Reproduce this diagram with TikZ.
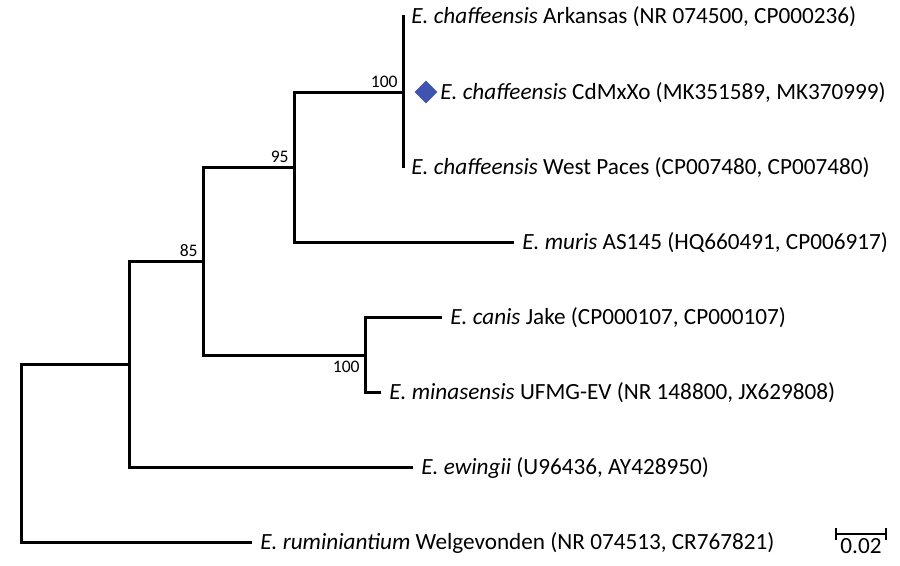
\documentclass[tikz,border=0pt]{standalone}
\usepackage{fontspec}
\setmainfont{Carlito}
\usetikzlibrary{shapes.geometric,calc}
\definecolor{markblue}{RGB}{62,84,176}
\begin{document}
\begin{tikzpicture}[x=0.5pt,y=-0.5pt,every node/.style={font=\fontsize{11.6}{13}\selectfont}]
    \tikzset{
      br/.style={line width=1.5pt},
      leaf/.style={anchor=west,inner sep=0pt,inner xsep=4pt},
      boot/.style={font=\fontsize{8.8}{10}\selectfont,inner sep=2.5pt},
      tag/.style={diamond,fill=markblue,inner sep=0pt,minimum size=11.5pt},
      bar/.style={line width=0.9pt}
    }
    \useasboundingbox (0,0) rectangle (900,566);

    % internal nodes
    \coordinate (root) at (21,454);
    \coordinate (An) at (129,365);
    \coordinate[label={[boot]above left:85}] (Bn) at (203,262);
    \coordinate[label={[boot]above left:95}] (D) at (294,168);
    \coordinate[label={[boot]above left:100}] (E) at (403,93);
    \coordinate[label={[boot]below left:100}] (C) at (365,356);

    % leaves
    \node[leaf] (ark) at (403,17) {\textit{E. chaffeensis} Arkansas (NR 074500, CP000236)};
    \node[tag] (dia) at (426,92) {};
    \node[leaf,inner xsep=0pt] (cdm) at (440,93) {\textit{E. chaffeensis} CdMxXo (MK351589, MK370999)};
    \node[leaf] (wpa) at (403,168) {\textit{E. chaffeensis} West Paces (CP007480, CP007480)};
    \node[leaf] (mur) at (514,243) {\textit{E. muris} AS145 (HQ660491, CP006917)};
    \node[leaf] (can) at (442,318) {\textit{E. canis} Jake (CP000107, CP000107)};
    \node[leaf] (min) at (381,393) {\textit{E. minasensis} UFMG-EV (NR 148800, JX629808)};
    \node[leaf] (ewi) at (413,468) {\textit{E. ewingii} (U96436, AY428950)};
    \node[leaf] (rum) at (252,543) {\textit{E. ruminiantium} Welgevonden (NR 074513, CR767821)};

    % branches
    \draw[br] (root) |- (An);
    \draw[br] (root) |- (rum.west);
    \draw[br] (An) |- (Bn);
    \draw[br] (An) |- (ewi.west);
    \draw[br] (Bn) |- (D);
    \draw[br] (Bn) |- (C);
    \draw[br] (D) |- (E);
    \draw[br] (D) |- (mur.west);
    \draw[br] (C) |- (can.west);
    \draw[br] (C) |- (min.west);
    \draw[br] (E) -- ([yshift=1pt]ark.west);
    \draw[br] (E) -- (wpa.west);

    % scale bar
    \coordinate (sbL) at (836,534);
    \coordinate (sbR) at (886,534);
    \draw[bar] (sbL) -- (sbR);
    \draw[bar] ([yshift=3pt]sbL) -- ([yshift=-3pt]sbL);
    \draw[bar] ([yshift=3pt]sbR) -- ([yshift=-3pt]sbR);
    \node[inner sep=2pt,anchor=north,font=\fontsize{11.6}{13}\selectfont] (sbT) at ($(sbL)!0.5!(sbR)$) {0.02};
\end{tikzpicture}
\end{document}
